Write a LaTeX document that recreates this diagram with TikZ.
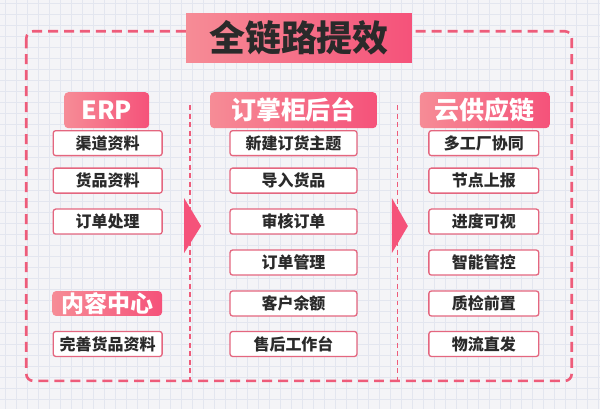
\documentclass[tikz,border=0pt]{standalone}
\usepackage{fontspec}
\setmainfont{Noto Sans CJK SC}
\usepackage{tikz}
\usetikzlibrary{calc}

\definecolor{bgcol}{HTML}{F4F4F7}
\definecolor{gridcol}{HTML}{E3E6EF}
\definecolor{pinkline}{HTML}{EE5C7A}
\definecolor{pinklight}{HTML}{F68C96}
\definecolor{pinkdark}{HTML}{F5527A}
\definecolor{boxline}{HTML}{E4667F}
\definecolor{textdark}{HTML}{2A2A2A}

\tikzset{
  itembox/.style={draw=boxline, line width=1.3pt, fill=white, rounded corners=2.5pt,
    minimum height=25pt, inner sep=0pt, text=textdark,
    font=\fontsize{16}{16}\selectfont\bfseries},
  headbox/.style={left color=pinklight, right color=pinkdark, rounded corners=4pt,
    inner sep=0pt, text=white, font=\fontsize{25}{25}\selectfont\bfseries},
  outerdash/.style={pinkline, line width=2.6pt, dash pattern=on 10pt off 6pt},
  sepdash/.style={pinkline, line width=1.8pt, dash pattern=on 5pt off 3.5pt},
  flowarrow/.style={fill=pinkdark},
}

\begin{document}
\begin{tikzpicture}[x=1pt,y=-1pt]
% background and grid
\fill[bgcol] (0,0) rectangle (600,409);
\foreach \gx in {5,16,...,600} \draw[gridcol, line width=0.6pt] (\gx,0) -- (\gx,409);
\foreach \gy in {3,14,...,409} \draw[gridcol, line width=0.6pt] (0,\gy) -- (600,\gy);
\useasboundingbox (0,0) rectangle (600,409);

% frame and column separators
\draw[outerdash, rounded corners=7pt] (26,31) rectangle (572,381);
\draw[sepdash] (190,105) -- (190,381);
\draw[sepdash] (397.5,105) -- (397.5,381);

% arrows between columns
\fill[flowarrow] (184,198) -- (201,226) -- (184,253) -- cycle;
\fill[flowarrow] (392,198) -- (408,226) -- (392,253) -- cycle;

% title
\node[headbox, rounded corners=0pt, minimum width=226pt, minimum height=49pt,
  text=textdark, font=\fontsize{36}{36}\selectfont\bfseries] (title) at (299,37.5) {全链路提效};

% column heads
\node[headbox, minimum width=85pt, minimum height=36pt] (erp) at (106.5,110) {ERP};
\node[headbox, minimum width=167pt, minimum height=36pt] (shop) at (293.5,110) {订掌柜后台};
\node[headbox, minimum width=130pt, minimum height=36pt] (supply) at (485,110) {云供应链};
\node[headbox, minimum width=110pt, minimum height=25pt,
  font=\fontsize{23}{23}\selectfont\bfseries] (content) at (107,303.5) {内容中心};

% ERP items
\foreach \t/\y [count=\i] in {渠道资料/143, 货品资料/180.5, 订单处理/221.5}
  \node[itembox, minimum width=109pt] (erp\i) at (107.5,\y) {\t};
\node[itembox, minimum width=109pt] (content1) at (107.5,344) {完善货品资料};

% backend items
\foreach \t/\y [count=\i] in {新建订货主题/143, 导入货品/180.5, 审核订单/221.5,
    订单管理/262.5, 客户余额/303.5, 售后工作台/344}
  \node[itembox, minimum width=127pt] (shop\i) at (293.5,\y) {\t};

% supply chain items
\foreach \t/\y [count=\i] in {多工厂协同/143, 节点上报/180.5, 进度可视/221.5,
    智能管控/262.5, 质检前置/303.5, 物流直发/344}
  \node[itembox, minimum width=110pt] (supply\i) at (484,\y) {\t};
\end{tikzpicture}
\end{document}
